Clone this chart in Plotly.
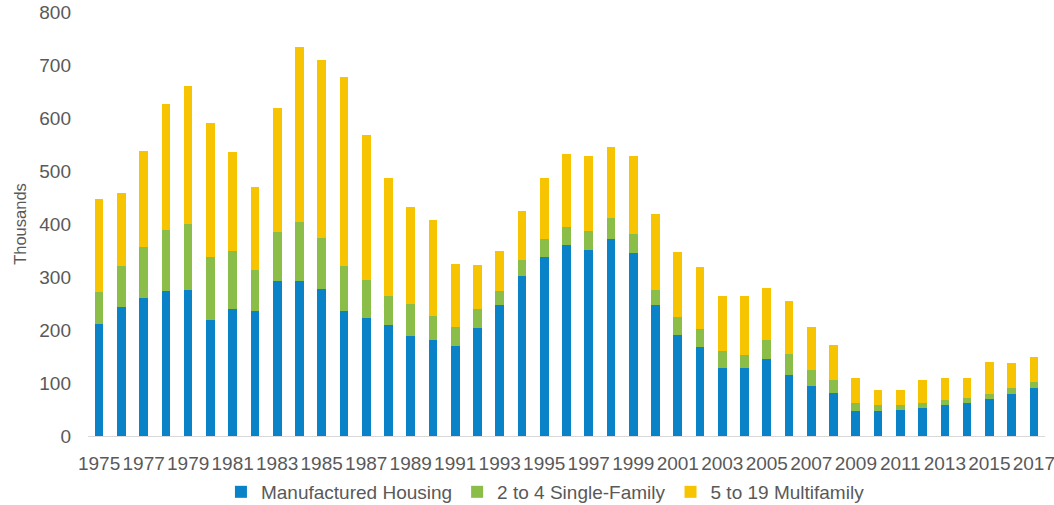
import plotly.graph_objects as go

years = list(range(1975, 2018))
manufactured = [212, 243, 260, 274, 275, 219, 239, 235, 292, 292, 277, 236, 223, 209, 189, 182,
                169, 204, 248, 302, 337, 361, 351, 371, 346, 248, 191, 167, 129, 129, 145, 116,
                94, 81, 48, 48, 50, 53, 59, 63, 69, 80, 91]
single_2to4 = [59, 78, 96, 115, 125, 119, 110, 78, 93, 112, 97, 85, 71, 56, 60, 44,
               36, 36, 26, 31, 35, 33, 36, 40, 35, 27, 34, 34, 31, 23, 37, 39,
               31, 24, 14, 10, 9, 9, 8, 9, 10, 10, 11]
multi_5to19 = [176, 138, 182, 237, 260, 253, 186, 156, 233, 330, 335, 357, 273, 222, 184, 181,
               119, 82, 75, 92, 115, 139, 141, 134, 147, 143, 123, 117, 105, 113, 97, 100,
               81, 66, 48, 29, 28, 44, 43, 37, 61, 48, 48]

series = [
    ("Manufactured Housing", manufactured, "#0A82C8"),
    ("2 to 4 Single-Family", single_2to4, "#8BBE48"),
    ("5 to 19 Multifamily", multi_5to19, "#F6C400"),
]

fig = go.Figure()
for name, vals, color in series:
    fig.add_trace(go.Bar(x=years, y=vals, name=name, marker=dict(color=color, line=dict(width=0))))

font_color = "#595959"
fig.update_layout(
    barmode="stack",
    bargap=0.61,
    width=1054,
    height=505,
    margin=dict(l=88, r=9, t=12, b=69, autoexpand=False),
    paper_bgcolor="white",
    plot_bgcolor="white",
    font=dict(family="Liberation Sans, Arial, sans-serif", size=19, color=font_color),
    legend=dict(orientation="h", x=0.478, xanchor="center", y=-0.132, yanchor="middle",
                font=dict(size=19, color=font_color), traceorder="normal"),
    xaxis=dict(
        range=[1974.5, 2017.5],
        tickvals=list(range(1975, 2018, 2)),
        ticktext=[str(y) for y in range(1975, 2018, 2)],
        showgrid=False,
        showline=True,
        linecolor="#D9D9D9",
        linewidth=1,
        ticks="",
        ticklabelstandoff=10,
        ticklabeloverflow="allow",
        tickfont=dict(size=19, color=font_color),
        zeroline=False,
        automargin=False,
    ),
    yaxis=dict(
        range=[0, 800],
        dtick=100,
        showgrid=False,
        showline=False,
        zeroline=False,
        ticks="",
        ticklabelstandoff=16,
        ticklabeloverflow="allow",
        tickfont=dict(size=19, color=font_color),
        title=dict(text="Thousands", font=dict(size=16.5, color=font_color), standoff=8),
        automargin=False,
    ),
)

fig.write_html("out.html", config={"displayModeBar": False},
               post_script="document.body.style.margin='0';")
